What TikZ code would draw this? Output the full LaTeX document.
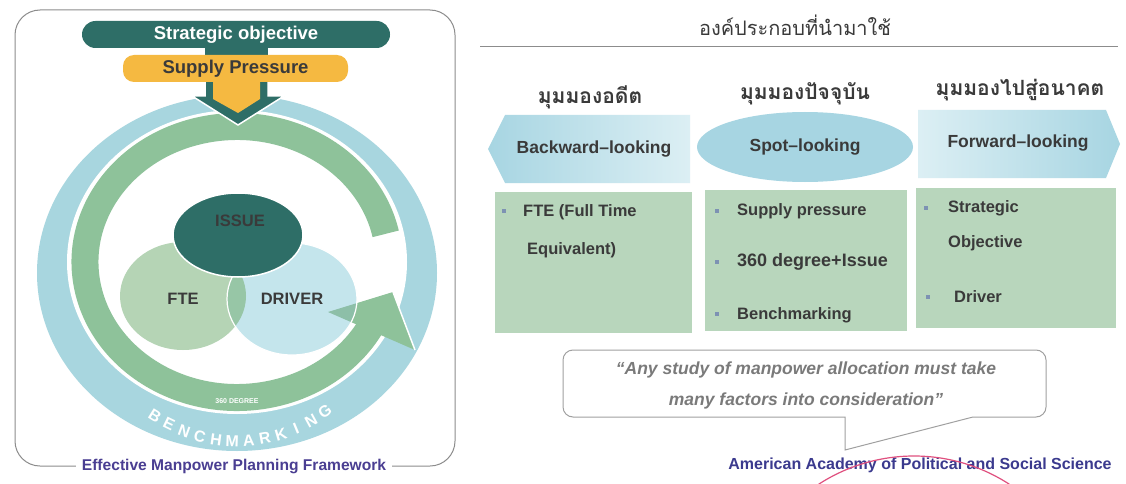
\documentclass[tikz,border=0pt]{standalone}
\usepackage{fontspec}
\setmainfont{Liberation Sans}
\newfontfamily\thaifont[Script=Thai]{Loma}
\newcommand\fsz[1]{\fontsize{#1}{#1}\selectfont}
\definecolor{teal}{HTML}{2E6E67}
\definecolor{yel}{HTML}{F5B941}
\definecolor{ringblue}{HTML}{A8D6DF}
\definecolor{ringgreen}{HTML}{8EC29A}
\definecolor{ftecol}{HTML}{B5D4B5}
\definecolor{drvcol}{HTML}{C4E5EC}
\definecolor{lenscol}{HTML}{97C6A6}
\definecolor{wedgecol}{HTML}{8DBFA8}
\definecolor{boxgreen}{HTML}{B8D6BC}
\definecolor{shapeblue}{HTML}{A7D5E2}
\definecolor{lightshape}{HTML}{DCEFF4}
\definecolor{txtgray}{HTML}{3A3A3A}
\definecolor{captpurple}{HTML}{4A3E92}
\definecolor{quotegray}{HTML}{7A7A7A}
\definecolor{framegray}{HTML}{8C8C8C}
\definecolor{bubblegray}{HTML}{A0A0A0}
\definecolor{bulcol}{HTML}{7D92B3}
\definecolor{stamp}{HTML}{E0507F}
\definecolor{navy}{HTML}{3B3A8E}
\begin{document}
\begin{tikzpicture}[x=1pt,y=-1pt,
  lbl/.style={inner sep=0, font=\fsz{16.5}\bfseries, text=txtgray},
  shapetxt/.style={inner sep=0, font=\fsz{17.5}\bfseries, text=txtgray},
  thaihead/.style={inner sep=0, anchor=base, font=\thaifont\bfseries\fsz{21}, text=txtgray},
  boxtxt/.style={inner sep=0, anchor=west, font=\fsz{16.5}\bfseries, text=txtgray},
  bul/.style={fill=bulcol, minimum size=4.5pt, inner sep=0},
  whiteborder/.style={draw=white, line width=1.5}]
\fill[white] (0,0) rectangle (1126,484);
\useasboundingbox (0,0) rectangle (1126,484);

% ---------- left panel ----------
\draw[framegray, line width=1, rounded corners=25] (15,10) rectangle (455,466);

\fill[ringblue] (237,273) ellipse [x radius=200, y radius=178];
\fill[white] (237,262) ellipse [x radius=170, y radius=152];
\draw[ringgreen, line width=27] ([shift={(-12:152 and 135.5)}]237,262)
  arc[start angle=-12, end angle=-334, x radius=152, y radius=135.5];
\coordinate (ahA) at (328,312);
\coordinate (ahB) at (393,292);
\coordinate (ahC) at (415,350);
\fill[ringgreen] (ahA) -- (ahB) -- (ahC) -- cycle;
\draw[white, line width=1.5] (ahB) -- (ahC);

\fill[ftecol] (183,296) ellipse [x radius=63, y radius=54];
\fill[drvcol] (292,299) ellipse [x radius=65, y radius=56];
\begin{scope}
  \clip (183,296) ellipse [x radius=63, y radius=54];
  \fill[lenscol] (292,299) ellipse [x radius=65, y radius=56];
\end{scope}
\begin{scope}
  \clip (292,299) ellipse [x radius=65, y radius=56];
  \fill[wedgecol] (ahA) -- (ahB) -- (ahC) -- cycle;
\end{scope}
\draw[white, line width=1.2] (292,299) ellipse [x radius=65, y radius=56];
\fill[teal, whiteborder] (238,235) ellipse [x radius=65, y radius=42];

\node[lbl] (tissue) at (240,221) {ISSUE};
\node[lbl] (tfte) at (183,299) {FTE};
\node[lbl] (tdrv) at (292,299) {DRIVER};
\node[inner sep=0, text=white, font=\fsz{7}\bfseries] (t360) at (237,401) {360 DEGREE};
\foreach \L [count=\i] in {B,E,N,C,H,M,A,R,K,I,N,G} {
  \pgfmathsetmacro\a{122-(\i-1)*6.05}
  \node[inner sep=0, rotate={90-\a}, text=white, font=\fsz{16}\bfseries]
    (bm\i) at ({237+155*cos(\a)},{273+168*sin(\a)}) {\L};
}

% arrow from the bars
\fill[teal, whiteborder] (205,78) -- (205,96) -- (192,96) -- (238,125) -- (284,96) -- (268,96) -- (268,78) -- cycle;
\fill[yel] (213,76) -- (213,99) -- (238,113) -- (260,99) -- (260,76) -- cycle;
\fill[teal] (205,45) rectangle (268,58);
\node[fill=teal, rounded corners=13.5, minimum width=308, minimum height=27, inner sep=0,
  text=white, font=\fsz{18.5}\bfseries] (strat) at (236,34.5) {Strategic objective};
\node[fill=yel, rounded corners=11, minimum width=225, minimum height=27, inner sep=0,
  text=txtgray, font=\fsz{18.5}\bfseries] (supply) at (235.5,68.5) {Supply Pressure};

\node[fill=white, text=captpurple, font=\fsz{15.6}\bfseries, inner xsep=6, inner ysep=2]
  (cap) at (234,466) {Effective Manpower Planning Framework};

% ---------- right panel ----------
\node[inner sep=0, anchor=base, font=\thaifont\fsz{20}, text=txtgray] (title) at (795,36) {องค์ประกอบที่นำมาใช้};
\coordinate (r1) at (480,47);
\coordinate (r2) at (1118,47);
\draw[framegray, line width=1] (r1) -- (r2);

\node[thaihead] (h1) at (590,103) {มุมมองอดีต};
\node[thaihead] (h2) at (805,100) {มุมมองปัจจุบัน};
\node[thaihead] (h3) at (1020,96) {มุมมองไปสู่อนาคต};

\shade[left color=shapeblue, right color=lightshape] (505,115) -- (690,115) -- (690,183) -- (505,183) -- (488,149) -- cycle;
\fill[shapeblue] (805,147) ellipse [x radius=108, y radius=35];
\shade[left color=lightshape, right color=shapeblue] (918,110) -- (1106,110) -- (1120,144) -- (1106,178) -- (918,178) -- cycle;
\node[shapetxt] (bw) at (594,149) {Backward–looking};
\node[shapetxt] (sp) at (805,147) {Spot–looking};
\node[shapetxt] (fw) at (1018,143) {Forward–looking};

\fill[boxgreen] (495,192) rectangle (692,333);
\fill[boxgreen] (705,190) rectangle (907,331);
\fill[boxgreen] (916,188) rectangle (1116,328);

\node[bul] (b11) at (504,211) {};
\node[boxtxt] (t11) at (523,212) {FTE (Full Time};
\node[boxtxt] (t12) at (527,250) {Equivalent)};
\node[bul] (b21) at (717,211) {};
\node[boxtxt] (t21) at (737,211) {Supply pressure};
\node[bul] (b22) at (717,262) {};
\node[boxtxt, font=\fsz{18}\bfseries] (t22) at (737,262) {360 degree+Issue};
\node[bul] (b23) at (717,314) {};
\node[boxtxt] (t23) at (737,315) {Benchmarking};
\node[bul] (b31) at (926,208) {};
\node[boxtxt] (t31) at (948,208) {Strategic};
\node[boxtxt] (t32) at (948,243) {Objective};
\node[bul] (b32) at (928,297) {};
\node[boxtxt] (t33) at (954,297) {Driver};

\draw[bubblegray, line width=1] (573,350) -- (1036,350) arc[start angle=-90, end angle=0, radius=10]
  -- (1046,407) arc[start angle=0, end angle=90, radius=10]
  -- (973,417) -- (845,450) -- (845,417) -- (573,417) arc[start angle=90, end angle=180, radius=10]
  -- (563,360) arc[start angle=180, end angle=270, radius=10] -- cycle;
\node[inner sep=0, font=\fsz{17.5}\bfseries\itshape, text=quotegray] (q1) at (806,370) {“Any study of manpower allocation must take};
\node[inner sep=0, font=\fsz{17.5}\bfseries\itshape, text=quotegray] (q2) at (806,401) {many factors into consideration”};

\node[inner sep=0, font=\fsz{16}\bfseries, text=navy] (aa) at (920,465) {American Academy of Political and Social Science};
\draw[stamp, line width=1.2] ([shift={(-123:175)}]914,631) arc[start angle=-123, end angle=-57, radius=175];
\end{tikzpicture}
\end{document}
